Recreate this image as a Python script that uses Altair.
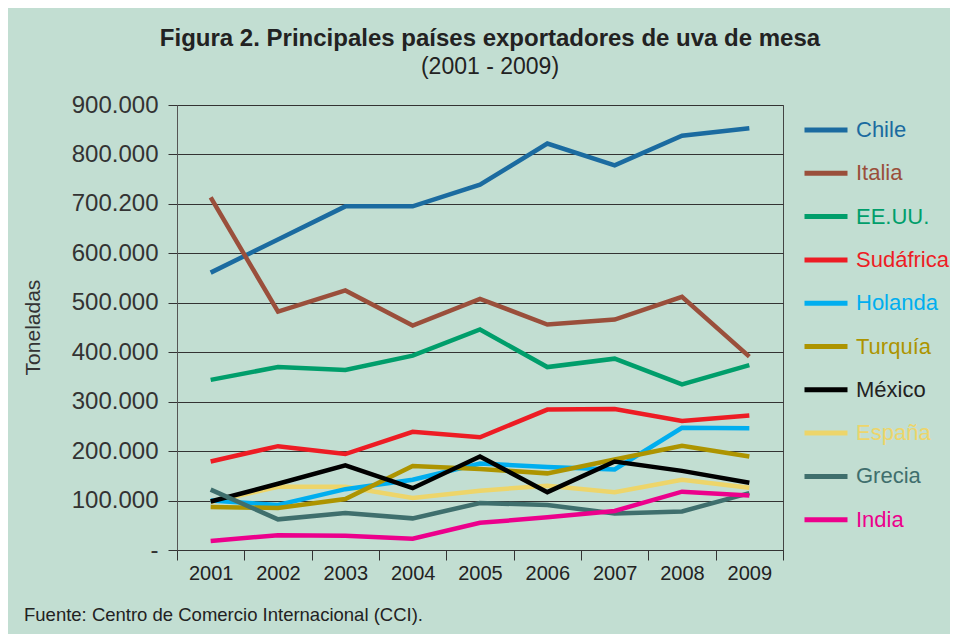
import altair as alt
import pandas as pd

years = ["2001", "2002", "2003", "2004", "2005", "2006", "2007", "2008", "2009"]
countries = ["Chile", "Italia", "EE.UU.", "Sudáfrica", "Holanda", "Turquía",
             "México", "España", "Grecia", "India"]
colors = ["#1B6BA0", "#9A4F3B", "#009E6B", "#ED1C24", "#00AEEF", "#AD9400",
          "#000000", "#EDD56A", "#3F6F6D", "#EC008C"]
label_colors = ["#1B6BA0", "#9A4F3B", "#009E6B", "#ED1C24", "#00AEEF", "#AD9400",
                "#222222", "#EDD56A", "#3F6F6D", "#EC008C"]

chile = [561000, 628000, 695000, 695000, 739000, 822000, 778000, 838000, 853000]
italia = [713000, 482000, 525000, 454000, 508000, 456000, 466000, 512000, 391000]
eeuu = [344000, 370000, 364000, 393000, 446000, 370000, 387000, 335000, 374000]
sudafrica = [179000, 210000, 194000, 239000, 228000, 284000, 285000, 261000, 272000]
holanda = [100000, 91000, 123000, 142000, 175000, 168000, 163000, 247000, 246000]
turquia = [87000, 85000, 103000, 170000, 164000, 155000, 183000, 211000, 189000]
mexico = [98000, 134000, 171000, 125000, 189000, 117000, 179000, 160000, 136000]
espana = [97000, 128000, 128000, 105000, 120000, 130000, 117000, 142000, 126000]
grecia = [122000, 62000, 75000, 64000, 95000, 91000, 74000, 78000, 115000]
india = [18000, 30000, 29000, 23000, 55000, 66000, 79000, 118000, 110000]

series = {
    "Chile": chile, "Italia": italia, "EE.UU.": eeuu, "Sudáfrica": sudafrica,
    "Holanda": holanda, "Turquía": turquia, "México": mexico, "España": espana,
    "Grecia": grecia, "India": india,
}
draw_order = ["España", "Chile", "Italia", "EE.UU.", "Sudáfrica", "Holanda",
              "Turquía", "México", "Grecia", "India"]

title_text = "Figura 2. Principales países exportadores de uva de mesa"
subtitle_text = "(2001 - 2009)"
y_title = "Toneladas"
footer = "Fuente: Centro de Comercio Internacional (CCI)."
y_ticks = [0, 100000, 200000, 300000, 400000, 500000, 600000, 700000, 800000, 900000]

rows = []
for c in draw_order:
    for yr, v in zip(years, series[c]):
        rows.append({"País": c, "Año": yr, "Toneladas": v})
df = pd.DataFrame(rows)

color_map = "{" + ",".join("'%s':'%s'" % (c, col) for c, col in zip(countries, label_colors)) + "}"

FONT = "Liberation Sans"
BG = "#C2DED2"

lines = alt.Chart(df).mark_line(strokeWidth=4.5, strokeJoin="miter", strokeCap="butt").encode(
    x=alt.X("Año:O", sort=years,
            scale=alt.Scale(type="band", paddingInner=0, paddingOuter=0),
            axis=alt.Axis(title=None, labelAngle=0, tickBand="extent", tickSize=10,
                          tickColor="#333333", domainColor="#333333",
                          labelFontSize=20, labelColor="#222222", labelPadding=3,
                          labelFont=FONT, grid=False)),
    y=alt.Y("Toneladas:Q",
            scale=alt.Scale(domain=[0, 900000], nice=False),
            axis=alt.Axis(title=y_title, values=y_ticks,
                          labelExpr="datum.value == 0 ? '-' : (datum.value == 700000 ? '700.200' : replace(format(datum.value, ','), ',', '.'))",
                          labelFontSize=24, labelColor="#333333", labelFont=FONT,
                          labelPadding=10, tickSize=9, tickColor="#333333",
                          domainColor="#555555", grid=True, gridColor="#333333",
                          gridWidth=1, titleFontSize=21, titleFont=FONT,
                          titleFontWeight="normal", titleColor="#333333",
                          titleX=-144, titleY=222, titleAngle=270,
                          titleAlign="center", titleBaseline="middle")),
    color=alt.Color("País:N", scale=alt.Scale(domain=countries, range=colors),
                    legend=alt.Legend(title=None, orient="none", legendX=625, legendY=1,
                                      symbolType="stroke", symbolSize=1849,
                                      symbolStrokeWidth=5, labelFontSize=22,
                                      labelFont=FONT, labelOffset=6, rowPadding=8.3,
                                      labelLimit=300,
                                      labelColor={"expr": color_map + "[datum.label]"})),
)

foot = alt.Chart(pd.DataFrame({"t": [footer]})).mark_text(
    align="left", baseline="middle", fontSize=18.5, font=FONT, color="#222222"
).encode(text="t:N", x=alt.value(-153), y=alt.value(510))

chart = alt.layer(lines, foot).properties(
    width=606, height=445,
    background=BG,
    autosize=alt.AutoSizeParams(type="none"),
    padding={"left": 169, "top": 97, "right": 167, "bottom": 84},
    title=alt.TitleParams(text=title_text, subtitle=subtitle_text, anchor="middle",
                          font=FONT, fontSize=24, fontWeight="bold", color="#222222",
                          subtitleFont=FONT, subtitleFontSize=23, subtitleColor="#222222",
                          subtitlePadding=5, offset=14, dx=10),
).configure_view(stroke="#444444", strokeWidth=1)

chart.save("out.html", embed_options={"renderer": "svg", "actions": False})
